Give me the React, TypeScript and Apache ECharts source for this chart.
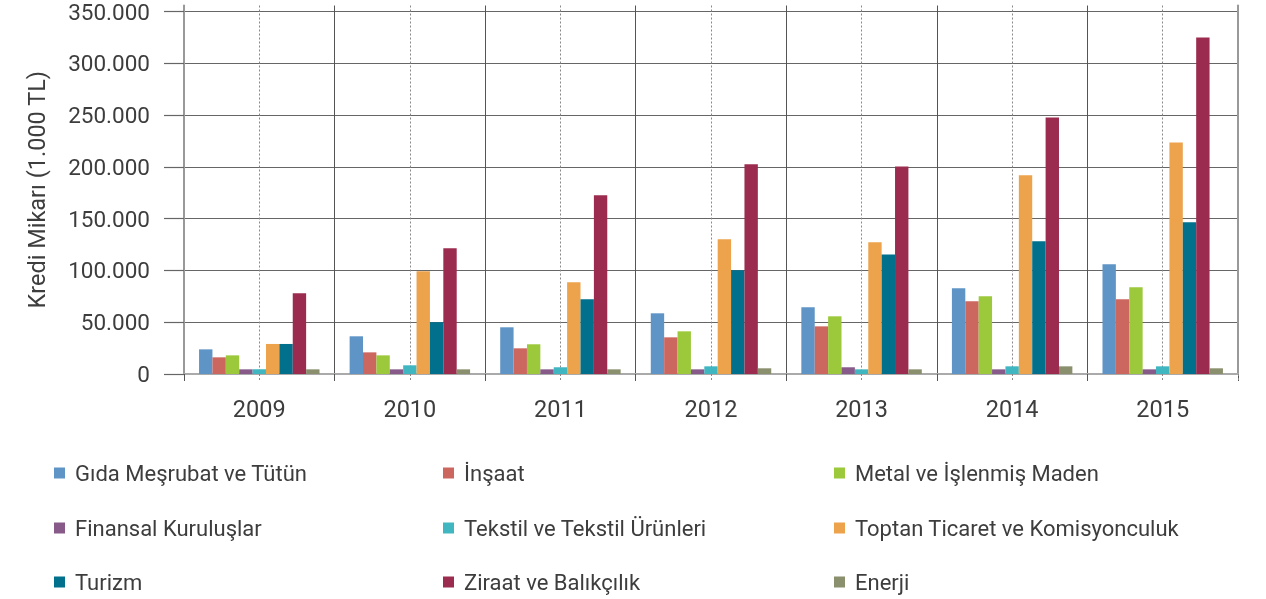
import React, { useEffect, useRef } from "react";
import * as echarts from "echarts";

const years = ["2009", "2010", "2011", "2012", "2013", "2014", "2015"];
const yTicks = [0, 50000, 100000, 150000, 200000, 250000, 300000, 350000];

const names = [
  "Gıda Meşrubat ve Tütün",
  "İnşaat",
  "Metal ve İşlenmiş Maden",
  "Finansal Kuruluşlar",
  "Tekstil ve Tekstil Ürünleri",
  "Toptan Ticaret ve Komisyonculuk",
  "Turizm",
  "Ziraat ve Balıkçılık",
  "Enerji",
];
const colors = ["#5f94c6", "#cc6760", "#9bc93b", "#875a8a", "#40b6c0", "#eca34c", "#00708d", "#9b2c4f", "#8a8f6d"];

const gida = [23800, 36400, 45100, 58600, 64400, 82700, 105900];
const insaat = [16100, 20900, 24800, 35400, 46000, 70200, 72100];
const metal = [18000, 18000, 28700, 41200, 55700, 75000, 83700];
const finansal = [4500, 4500, 4500, 4500, 6500, 4500, 4500];
const tekstil = [4500, 8400, 6500, 7400, 4500, 7400, 7400];
const toptan = [29000, 99100, 88500, 130000, 127100, 191800, 223600];
const turizm = [29000, 50000, 72100, 100100, 115500, 128100, 146400];
const ziraat = [77900, 121300, 172500, 202400, 200400, 247700, 324900];
const enerji = [4500, 4500, 4500, 5500, 4500, 7400, 5500];

const values = [gida, insaat, metal, finansal, tekstil, toptan, turizm, ziraat, enerji];

const FONT = "Roboto";
const TEXT = "#3d3d3d";

function fmt(v: number) {
  return String(v).replace(/\B(?=(\d{3})+(?!\d))/g, ".");
}

export default function App() {
  const ref = useRef<HTMLDivElement>(null);
  useEffect(() => {
    if (!ref.current) return;
    const chart = echarts.init(ref.current, undefined, { renderer: "svg" });
    const gridTop = 5;
    const gridBottomPx = 374;
    const yMax = (350000 * (gridBottomPx - gridTop)) / (gridBottomPx - 11);
    const halfCats = years.flatMap((y) => [y + "a", y + "b"]);
    const legendLefts = [54, 443, 834];
    const legendTops = [462, 517, 571];
    chart.setOption({
      animation: false,
      color: colors,
      textStyle: { fontFamily: FONT },
      grid: { left: 184, right: 28, top: gridTop, bottom: 599 - gridBottomPx },
      legend: names.map((n, i) => ({
        data: [n],
        orient: "horizontal",
        left: legendLefts[i % 3],
        top: legendTops[Math.floor(i / 3)],
        itemWidth: 11,
        itemHeight: 11,
        icon: "rect",
        selectedMode: false,
        padding: 0,
        textStyle: { fontFamily: FONT, fontSize: 22, color: TEXT, padding: [0, 0, 0, 5] },
      })),
      xAxis: [
        {
          type: "category",
          data: years,
          boundaryGap: true,
          axisLine: { show: true, lineStyle: { color: "#aaa", width: 2 } },
          axisTick: { show: true, length: 7, lineStyle: { color: "#555", width: 1 } },
          splitLine: { show: true, lineStyle: { color: "#555", width: 1 } },
          axisLabel: { fontFamily: FONT, fontSize: 23.5, color: TEXT, margin: 23 },
        },
        {
          type: "category",
          data: halfCats,
          position: "bottom",
          boundaryGap: true,
          axisLine: { show: false },
          axisLabel: { show: false },
          axisTick: {
            show: true,
            length: 8,
            interval: (i: number) => i % 2 === 1,
            lineStyle: { color: "#888", width: 1, type: [2, 2] },
          },
          splitLine: {
            show: true,
            interval: (i: number) => i % 2 === 1,
            lineStyle: { color: "#888", width: 1, type: [2, 2] },
          },
        },
      ],
      yAxis: [
        {
          type: "value",
          min: 0,
          max: yMax,
          name: "Kredi Mikarı (1.000 TL)",
          nameLocation: "middle",
          nameGap: 135,
          nameTextStyle: { fontFamily: FONT, fontSize: 23.5, color: TEXT },
          axisLine: { show: true, lineStyle: { color: "#999", width: 2 } },
          axisTick: { show: true, length: 20, customValues: yTicks, lineStyle: { color: "#666", width: 1.2 } },
          axisLabel: {
            customValues: yTicks,
            fontFamily: FONT,
            fontSize: 22.5,
            lineHeight: 20,
            color: TEXT,
            margin: 34,
            formatter: (v: number) => fmt(v),
          },
          splitLine: { show: true, lineStyle: { color: "#666", width: 1.2 } },
        },
        {
          type: "value",
          min: 0,
          max: yMax,
          position: "right",
          axisLine: { show: true, lineStyle: { color: "#999", width: 2 } },
          axisTick: { show: false },
          axisLabel: { show: false },
          splitLine: { show: false },
        },
      ],
      series: names.map((n, i) => ({
        name: n,
        type: "bar",
        xAxisIndex: 0,
        yAxisIndex: 0,
        data: values[i],
        barGap: "0%",
        barCategoryGap: "20%",
        itemStyle: { color: colors[i] },
      })),
    });
    return () => chart.dispose();
  }, []);
  return <div ref={ref} style={{ position: "fixed", left: 0, top: 0, width: 1266, height: 599 }} />;
}
